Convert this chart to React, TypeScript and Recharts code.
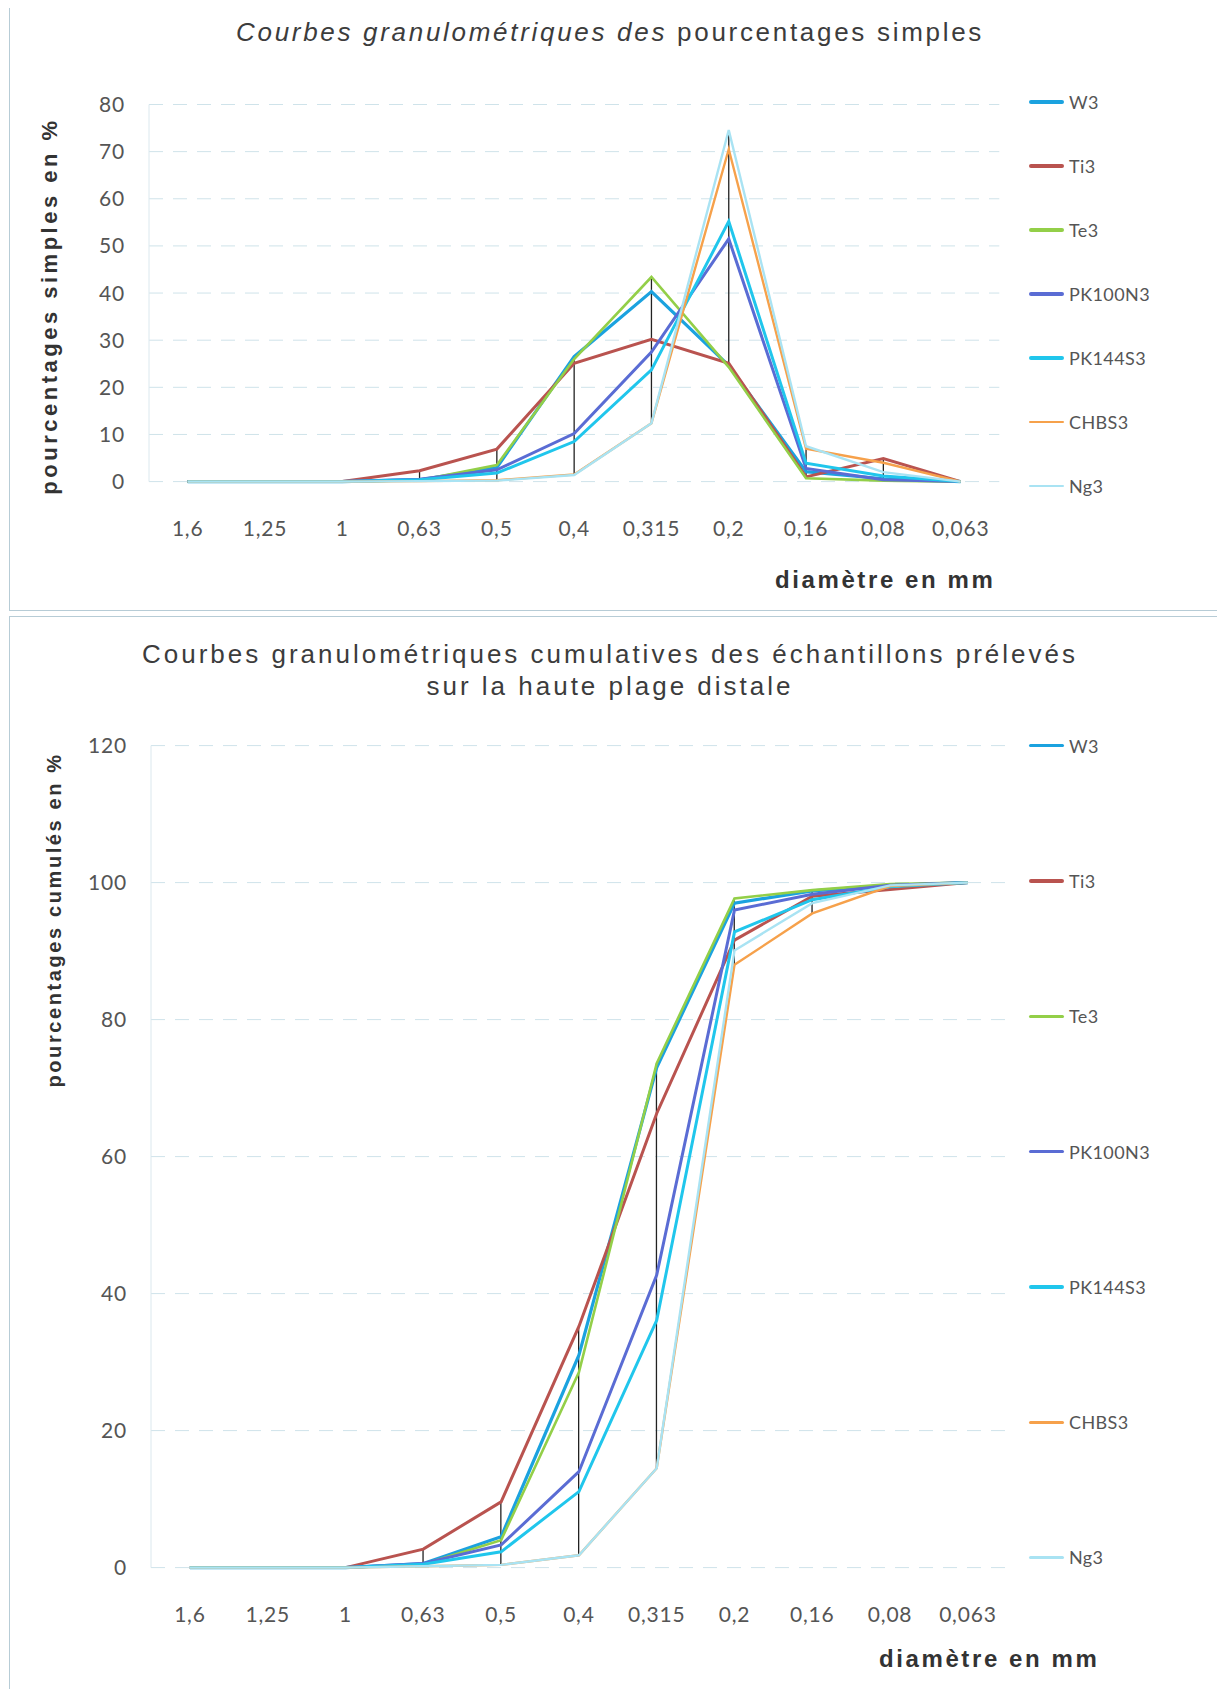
import React from "react";
import { ComposedChart, Line, Bar, XAxis, YAxis, CartesianGrid } from "recharts";

// sieve sizes (mm), coarse to fine
const categories = ["1,6", "1,25", "1", "0,63", "0,5", "0,4", "0,315", "0,2", "0,16", "0,08", "0,063"];

const seriesNames = ["W3", "Ti3", "Te3", "PK100N3", "PK144S3", "CHBS3", "Ng3"];
const seriesColors = ["#1ba2df", "#b9534f", "#93cf48", "#5a6cd4", "#20c6ec", "#f6a14b", "#a9e3f3"];
const seriesWidths = [3.2, 3, 2.6, 3, 3, 2.4, 2.4];

// pourcentages simples
const simpleW3 = [0, 0, 0, 0.4, 3.0, 26.5, 40.3, 24.6, 2.1, 0.6, 0];
const simpleTi3 = [0, 0, 0, 2.3, 6.9, 25.1, 30.2, 25.1, 1.0, 4.9, 0];
const simpleTe3 = [0, 0, 0, 0.3, 3.5, 26.0, 43.4, 24.3, 0.7, 0.2, 0];
const simplePK100N3 = [0, 0, 0, 0.5, 2.5, 10.2, 27.5, 51.5, 2.8, 0.4, 0];
const simplePK144S3 = [0, 0, 0, 0.4, 1.8, 8.5, 23.7, 55.2, 3.9, 1.2, 0];
const simpleCHBS3 = [0, 0, 0, 0.1, 0.3, 1.5, 12.4, 70.5, 7.0, 4.0, 0];
const simpleNg3 = [0, 0, 0, 0.1, 0.2, 1.4, 12.4, 74.6, 7.5, 2.0, 0];

// pourcentages cumulés
const cumulW3 = [0, 0, 0, 0.6, 4.5, 31.0, 73.0, 97.0, 98.8, 99.6, 100];
const cumulTi3 = [0, 0, 0, 2.7, 9.6, 35.2, 66.3, 91.6, 98.0, 99.0, 100];
const cumulTe3 = [0, 0, 0, 0.5, 4.0, 28.5, 73.6, 97.7, 98.9, 99.8, 100];
const cumulPK100N3 = [0, 0, 0, 0.6, 3.3, 14.0, 42.7, 96.0, 98.3, 99.6, 100];
const cumulPK144S3 = [0, 0, 0, 0.5, 2.3, 11.1, 36.1, 92.8, 97.5, 99.4, 100];
const cumulCHBS3 = [0, 0, 0, 0.2, 0.4, 1.8, 14.5, 88.0, 95.5, 99.5, 100];
const cumulNg3 = [0, 0, 0, 0.2, 0.4, 1.8, 14.5, 90.1, 97.0, 99.6, 100];

const simpleTicks = [0, 10, 20, 30, 40, 50, 60, 70, 80];
const cumulTicks = [0, 20, 40, 60, 80, 100, 120];

const simpleSeries = [simpleW3, simpleTi3, simpleTe3, simplePK100N3, simplePK144S3, simpleCHBS3, simpleNg3];
const cumulSeries = [cumulW3, cumulTi3, cumulTe3, cumulPK100N3, cumulPK144S3, cumulCHBS3, cumulNg3];

// one row per sieve, plus the high-low range across samples
function buildRows(series: number[][]) {
  return categories.map((cat, i) => {
    const row: any = { cat };
    const vals = series.map((s) => s[i]);
    seriesNames.forEach((n, k) => (row[n] = vals[k]));
    row.hl = [Math.min(...vals), Math.max(...vals)];
    return row;
  });
}

const simpleRows = buildRows(simpleSeries);
const cumulRows = buildRows(cumulSeries);

const tickFont = "Lato, 'Open Sans', sans-serif";
const titleFont = "'Liberation Sans', Arial, sans-serif";

const XTick = (props: any) => {
  const { x, y, payload } = props;
  return (
    <text x={x} y={y} dy={46} textAnchor="middle" fontFamily={tickFont} fontSize={21} fill="#555" letterSpacing={0.8}>
      {payload.value}
    </text>
  );
};

const YTick = (props: any) => {
  const { x, y, payload } = props;
  return (
    <text x={x} y={y} dx={-16} dy={7.5} textAnchor="end" fontFamily={tickFont} fontSize={21} fill="#555" letterSpacing={0.8}>
      {payload.value}
    </text>
  );
};

function GranuloChart({ rows, ticks, width, height, margin }: any) {
  return (
    <ComposedChart width={width} height={height} data={rows} margin={margin}>
      <CartesianGrid vertical={false} stroke="#cfe3ea" strokeDasharray="14 10" />
      <XAxis dataKey="cat" axisLine={false} tickLine={false} tick={<XTick />} height={60} interval={0} />
      <YAxis
        domain={[0, ticks[ticks.length - 1]]}
        ticks={ticks}
        width={60}
        axisLine={{ stroke: "#dbe8ee" }}
        tickLine={false}
        tick={<YTick />}
        interval={0}
      />
      {seriesNames.map((n, k) => (
        <Line
          key={n}
          type="linear"
          dataKey={n}
          stroke={seriesColors[k]}
          strokeWidth={seriesWidths[k]}
          dot={false}
          isAnimationActive={false}
        />
      ))}
      <Bar dataKey="hl" barSize={1.3} fill="#222" legendType="none" isAnimationActive={false} />
    </ComposedChart>
  );
}

function SeriesLegend({ top, step }: { top: number; step: number }) {
  return (
    <>
      {seriesNames.map((n, k) => (
        <div
          key={n}
          style={{
            position: "absolute",
            left: 1029,
            top: top + k * step - 14,
            height: 28,
            display: "flex",
            alignItems: "center",
          }}
        >
          <div style={{ width: 35, height: seriesWidths[k] + 0.5, background: seriesColors[k], borderRadius: 2 }} />
          <span
            style={{
              marginLeft: 5,
              fontFamily: tickFont,
              fontSize: 18,
              color: "#555",
              letterSpacing: 0.4,
              whiteSpace: "nowrap",
            }}
          >
            {n}
          </span>
        </div>
      ))}
    </>
  );
}

const abs = (left: number, top: number, extra: any = {}) => ({
  position: "absolute" as const,
  left,
  top,
  whiteSpace: "nowrap" as const,
  ...extra,
});

export default function App() {
  return (
    <div style={{ position: "relative", width: 1225, height: 1689, margin: "-8px 0 0 -8px", background: "#fff", overflow: "hidden" }}>
      {/* panel frames */}
      <div style={abs(9, 6, { width: 1225, height: 605, border: "1.5px solid #b7ccd6", boxSizing: "border-box" })} />
      <div style={abs(9, 616, { width: 1225, height: 1080, border: "1.5px solid #b7ccd6", boxSizing: "border-box" })} />

      {/* top chart */}
      <div style={abs(0, 0)}>
        <GranuloChart
          rows={simpleRows}
          ticks={simpleTicks}
          width={1225}
          height={605}
          margin={{ top: 104.5, right: 225.7, bottom: 63.4, left: 89 }}
        />
      </div>
      <div
        style={abs(610, 32, {
          transform: "translate(-50%, -50%)",
          fontFamily: titleFont,
          fontSize: 26,
          letterSpacing: 2.7,
          color: "#3c3c3c",
        })}
      >
        <i>Courbes granulométriques des</i> pourcentages simples
      </div>
      <div
        style={abs(50, 306, {
          transform: "translate(-50%, -50%) rotate(-90deg)",
          fontFamily: titleFont,
          fontWeight: 700,
          fontSize: 22,
          letterSpacing: 3.5,
          color: "#333",
        })}
      >
        pourcentages simples en %
      </div>
      <div
        style={abs(775, 580, {
          transform: "translateY(-50%)",
          fontFamily: titleFont,
          fontWeight: 700,
          fontSize: 24,
          letterSpacing: 2.6,
          color: "#333",
        })}
      >
        diamètre en mm
      </div>
      <SeriesLegend top={102} step={64} />

      {/* bottom chart */}
      <div style={abs(0, 614)}>
        <GranuloChart
          rows={cumulRows}
          ticks={cumulTicks}
          width={1225}
          height={1075}
          margin={{ top: 131.6, right: 218.2, bottom: 61.4, left: 91 }}
        />
      </div>
      <div
        style={abs(610, 670, {
          transform: "translate(-50%, -50%)",
          fontFamily: titleFont,
          fontSize: 26,
          letterSpacing: 3.0,
          color: "#3c3c3c",
          textAlign: "center",
          lineHeight: "32px",
        })}
      >
        Courbes granulométriques cumulatives des échantillons prélevés
        <br />
        sur la haute plage distale
      </div>
      <div
        style={abs(53.5, 920, {
          transform: "translate(-50%, -50%) rotate(-90deg)",
          fontFamily: titleFont,
          fontWeight: 700,
          fontSize: 20,
          letterSpacing: 2.6,
          color: "#333",
        })}
      >
        pourcentages cumulés en %
      </div>
      <div
        style={abs(879, 1659, {
          transform: "translateY(-50%)",
          fontFamily: titleFont,
          fontWeight: 700,
          fontSize: 24,
          letterSpacing: 2.6,
          color: "#333",
        })}
      >
        diamètre en mm
      </div>
      <SeriesLegend top={745.6} step={135.3} />
    </div>
  );
}
